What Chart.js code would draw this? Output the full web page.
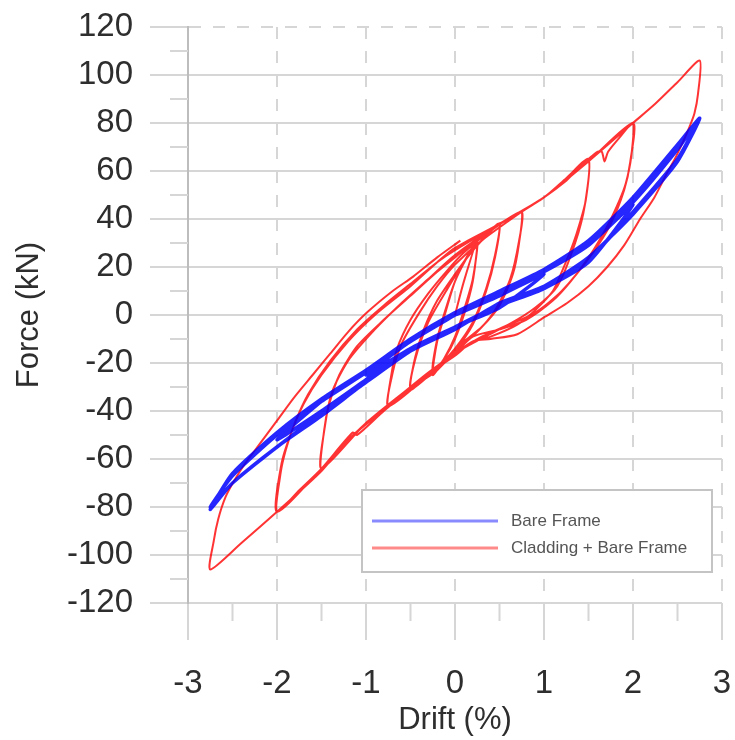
<!DOCTYPE html>
<html>
<head>
<meta charset="utf-8">
<script src="https://cdn.jsdelivr.net/npm/chart.js@4.4.1/dist/chart.umd.min.js"></script>
<style>
  body { margin: 0; background: #fff; }
  #wrap { width: 735px; height: 740px; }
</style>
</head>
<body>
<div id="wrap"><canvas id="hysteresis"></canvas></div>
<script>
const bareDrift = [
  0, 0.5, 1, 0.5, 0, -0.5, -1, -0.5, 0, 0.5, 1,
  1.5, 2, 1.5, 1, 0.5, 0, -0.5, -1, -1.5, -2, -1.5, -1, -0.5, 0, 0.5, 1, 1.5, 2,
  2.5, 2.75, 2.5, 2, 1.5, 1, 0.5, 0, -0.5, -1, -1.5, -2, -2.5, -2.75,
  -2.5, -2, -1.5, -1, -0.5, 0, 0.5, 1, 1.5, 2, 2.5, 2.75,
  2.5, 2, 1.5, 1, 0.5, 0, -0.5, -1, -1.5, -2, -2.5, -2.75,
  -2.5, -2, -1.5, -1, -0.5, 0
];
const bareForce = [
  0, 8, 17, 3, -5, -14, -25, -11, 0, 9, 18,
  29, 46, 22, 11, 4, -5, -14, -27, -40, -52, -36, -23, -11, 0, 9, 18, 30, 47,
  69, 82, 65, 43, 23, 11, 4, -5, -15, -28, -41, -55, -70, -81,
  -66, -49, -35, -23, -10, 1, 10, 19, 31, 49, 71, 82,
  64, 42, 24, 12, 5, -6, -15, -28, -42, -55, -70, -80,
  -67, -50, -36, -24, -11, 0
];

// Cladding + bare frame: drift (%) and force (kN)
const cladDrift = [
  0, 0.1, 0.25,
  0.2, 0.1, 0, -0.1, -0.25,
  -0.2, -0.1, 0, 0.1, 0.25,
  0.2, 0.1, 0, -0.12, -0.25,
  -0.2, -0.1, 0, 0.12, 0.25, 0.35, 0.5,
  0.45, 0.35, 0.2, 0, -0.2, -0.35, -0.5,
  -0.45, -0.35, -0.2, 0, 0.2, 0.35, 0.5,
  0.45, 0.35, 0.2, 0, -0.2, -0.5,
  -0.45, -0.3, -0.1, 0.1, 0.3, 0.5, 0.62, 0.75,
  0.72, 0.65, 0.5, 0.3, 0.1, -0.1, -0.3, -0.5, -0.75,
  -0.72, -0.65, -0.5, -0.3, -0.1, 0.1, 0.4, 0.75,
  0.72, 0.62, 0.45, 0.25, 0, -0.3, -0.75,
  -0.7, -0.6, -0.4, -0.2, 0, 0.3, 0.75, 1, 1.25, 1.5,
  1.47, 1.4, 1.33, 1.2, 1.1, 0.9, 0.7, 0.4, 0.2, 0, -0.3, -0.6, -0.9, -1.2, -1.5,
  -1.47, -1.42, -1.3, -1.1, -0.8, -0.5, -0.2, 0, 0.3, 0.6, 1, 1.25, 1.5,
  1.46, 1.35, 1.15, 0.9, 0.6, 0.3, 0, -0.5, -1, -1.5,
  -1.46, -1.38, -1.2, -0.9, -0.6, -0.3, 0, 0.5, 1, 1.5,
  1.6, 1.65, 1.68, 1.72, 1.85, 2,
  1.98, 1.92, 1.85, 1.71, 1.52, 1.3, 1.1, 0.8, 0.5, 0.2, 0, -0.4, -0.8, -1.1, -1.15, -1.5, -1.75, -2,
  -1.96, -1.9, -1.8, -1.65, -1.4, -1.1, -0.8, -0.5, -0.2, 0, 0.5, 1, 1.5, 2,
  1.97, 1.9, 1.75, 1.55, 1.2, 0.9, 0.5, 0, -0.5, -1, -1.5, -2,
  -1.95, -1.85, -1.7, -1.5, -1.2, -0.9, -0.5, -0.2, 0, 0.5, 1, 1.5, 2,
  2.25, 2.5, 2.75,
  2.73, 2.69, 2.63, 2.56, 2.47, 2.38, 2.24, 2.08, 1.9, 1.71, 1.5, 1.26, 1, 0.7, 0.4, 0.2, 0, -0.4, -0.75, -1.2, -1.5, -2, -2.4, -2.75,
  -2.71, -2.66, -2.58, -2.48, -2.36, -2.2, -2, -1.8, -1.6, -1.4, -1.2, -0.99, -0.7, -0.47, -0.2, 0.06
];
const cladForce = [
  0, 14, 31,
  14, 0, -10, -17, -24,
  -10, 3, 14, 22, 31,
  15, 2, -9, -18, -25,
  -11, 2, 14, 23, 31, 34, 38,
  24, 10, -4, -15, -23, -27, -31,
  -18, -6, 6, 17, 27, 33, 38,
  25, 11, -3, -14, -22, -31,
  -19, -3, 10, 22, 31, 38, 40, 43,
  30, 17, 4, -5, -11, -18, -25, -31, -38,
  -26, -14, -2, 9, 18, 26, 35, 43,
  31, 15, 2, -7, -15, -25, -38,
  -24, -12, 1, 12, 21, 31, 43, 49, 56, 64,
  48, 38, 30, 18, 10, 2, -4, -9, -11, -16, -24, -33, -42, -52, -64,
  -48, -38, -25, -13, -2, 8, 18, 24, 33, 40, 49, 57, 65,
  46, 30, 12, 3, -4, -9, -16, -30, -45, -64,
  -46, -32, -19, -6, 5, 15, 25, 38, 49, 65,
  68, 68, 64, 68, 74, 80,
  66, 55, 48, 37, 25, 14, 6, -2, -6, -9, -16, -28, -40, -50, -49, -64, -73, -82,
  -66, -56, -45, -33, -19, -6, 4, 13, 22, 27, 38, 49, 64, 80,
  64, 52, 38, 26, 10, 1, -6, -16, -31, -45, -64, -82,
  -62, -50, -37, -25, -11, 0, 12, 22, 28, 38, 49, 64, 80,
  88, 97, 106,
  92, 84, 78, 72, 65, 59, 49, 40, 29, 20, 12, 5, -1, -8, -10, -11, -17, -27, -38, -52, -65, -82, -95, -106,
  -94, -85, -76, -69, -62, -54, -44, -34, -25, -16, -7, 1, 10, 16, 24, 31
];

const driftTicks = [-3, -2, -1, 0, 1, 2, 3];
const forceTicks = [-120, -100, -80, -60, -40, -20, 0, 20, 40, 60, 80, 100, 120];
const minorDrift = [-2.5, -1.5, -0.5, 0.5, 1.5, 2.5];
const minorForce = [-110, -90, -70, -50, -30, -10, 10, 30, 50, 70, 90, 110];

const toPoints = (xs, ys) => xs.map((x, i) => ({ x: x, y: ys[i] }));

const GRID = '#d6d6d6';
const TEXT = '#2e2e2e';
const FONT = '"Liberation Sans", Arial, sans-serif';

// minor ticks and the boxed legend sitting inside the plot
const extras = {
  id: 'extras',
  afterDraw(chart) {
    const { ctx, chartArea: a, scales } = chart;
    ctx.save();
    ctx.strokeStyle = GRID;
    ctx.lineWidth = 2;
    ctx.beginPath();
    minorForce.forEach(v => {
      const py = scales.y.getPixelForValue(v);
      ctx.moveTo(a.left - 18, py);
      ctx.lineTo(a.left, py);
    });
    minorDrift.forEach(v => {
      const px = scales.x.getPixelForValue(v);
      ctx.moveTo(px, a.bottom);
      ctx.lineTo(px, a.bottom + 18);
    });
    ctx.stroke();

    const bx = a.right - 360, by = a.bottom - 113, bw = 350, bh = 82;
    ctx.fillStyle = '#fff';
    ctx.fillRect(bx, by, bw, bh);
    ctx.strokeStyle = '#c4c4c4';
    ctx.lineWidth = 2;
    ctx.strokeRect(bx, by, bw, bh);
    ctx.font = '17px ' + FONT;
    ctx.textBaseline = 'middle';
    const swatch = ['rgba(60,60,255,0.6)', 'rgba(255,60,60,0.6)'];
    chart.data.datasets.forEach((ds, i) => {
      const ly = by + 31 + i * 27;
      ctx.strokeStyle = swatch[i];
      ctx.lineWidth = 3;
      ctx.beginPath();
      ctx.moveTo(bx + 10, ly);
      ctx.lineTo(bx + 136, ly);
      ctx.stroke();
      ctx.fillStyle = '#555';
      ctx.fillText(ds.label, bx + 149, ly);
    });
    ctx.restore();
  }
};

new Chart(document.getElementById('hysteresis'), {
  type: 'scatter',
  data: {
    datasets: [{
      label: 'Bare Frame',
      data: toPoints(bareDrift, bareForce),
      showLine: true,
      borderColor: 'rgba(0,0,255,0.85)',
      borderWidth: 3.5,
      pointRadius: 0,
      tension: 0.2
    }, {
      label: 'Cladding + Bare Frame',
      data: toPoints(cladDrift, cladForce),
      showLine: true,
      borderColor: 'rgba(255,0,0,0.8)',
      borderWidth: 2,
      pointRadius: 0,
      tension: 0.25
    }]
  },
  options: {
    responsive: true,
    maintainAspectRatio: false,
    animation: false,
    layout: { padding: { top: 27, right: 0, left: 0, bottom: 0 } },
    plugins: {
      legend: { display: false },
      tooltip: { enabled: false }
    },
    scales: {
      x: {
        type: 'linear',
        min: -3,
        max: 3,
        afterBuildTicks: s => { s.ticks = driftTicks.map(v => ({ value: v })); },
        afterFit: s => { s.height = 137; s.paddingLeft = 0; s.paddingRight = 13; },
        grid: { color: GRID, lineWidth: 2, tickLength: 37, tickColor: GRID },
        border: { display: false, dash: [12, 12] },
        ticks: {
          color: TEXT,
          padding: 24,
          font: { family: FONT, size: 33 }
        },
        title: {
          display: true,
          text: 'Drift (%)',
          color: TEXT,
          padding: { top: 0, bottom: 1 },
          font: { family: FONT, size: 31 }
        }
      },
      y: {
        type: 'linear',
        min: -120,
        max: 120,
        afterBuildTicks: s => { s.ticks = forceTicks.map(v => ({ value: v })); },
        afterFit: s => { s.width = 188; s.paddingTop = 0; s.paddingBottom = 0; },
        grid: { color: GRID, lineWidth: 2, tickLength: 38, tickColor: GRID },
        border: {
          color: '#bdbdbd',
          width: 2,
          dash: c => (c.tick && c.tick.value === 120 ? [12, 12] : [])
        },
        ticks: {
          color: TEXT,
          padding: 17,
          font: { family: FONT, size: 33 }
        },
        title: {
          display: true,
          text: 'Force (kN)',
          color: TEXT,
          padding: { top: 11, bottom: 0 },
          font: { family: FONT, size: 31 }
        }
      }
    }
  },
  plugins: [extras]
});
</script>
</body>
</html>
